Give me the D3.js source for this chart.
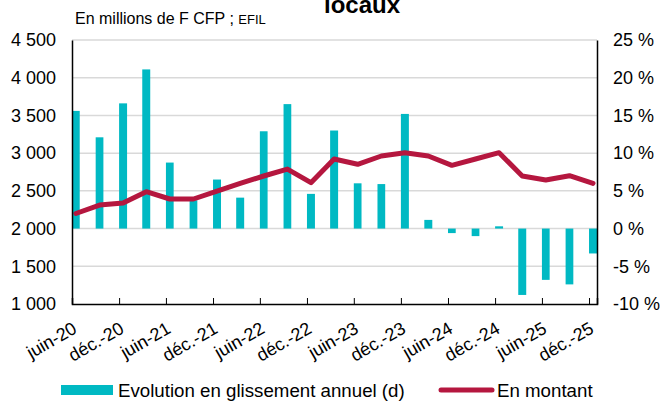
<!DOCTYPE html>
<html><head><meta charset="utf-8">
<script src="https://cdn.jsdelivr.net/npm/d3@7"></script>
<style>
html,body{margin:0;padding:0;background:#fff;}
svg text{font-family:"Liberation Sans",Arial,sans-serif;fill:#000;}
</style></head>
<body><svg id="c" width="665" height="401"></svg>
<script>
const dates = ["2020-06","2020-09","2020-12","2021-03","2021-06","2021-09","2021-12","2022-03","2022-06","2022-09","2022-12","2023-03","2023-06","2023-09","2023-12","2024-03","2024-06","2024-09","2024-12","2025-03","2025-06","2025-09","2025-12"];
const growth = [15.6,12.1,16.6,21.1,8.75,3.75,6.5,4.1,12.9,16.5,4.6,13.0,6.0,5.9,15.2,1.15,-0.6,-1.0,0.3,-8.8,-6.8,-7.4,-3.3];
const amount = [2200,2312,2339,2489,2392,2392,2498,2600,2697,2789,2608,2922,2852,2962,3006,2962,2838,2922,3006,2697,2644,2701,2600];
const tickDates = ["2020-06","2020-12","2021-06","2021-12","2022-06","2022-12","2023-06","2023-12","2024-06","2024-12","2025-06","2025-12"];
const tickLabels = ["juin-20","déc.-20","juin-21","déc.-21","juin-22","déc.-22","juin-23","déc.-23","juin-24","déc.-24","juin-25","déc.-25"];
const leftTicks = [1000,1500,2000,2500,3000,3500,4000,4500];
const rightTicks = [-10,-5,0,5,10,15,20,25];
const seriesNames = ["Evolution en glissement annuel (d)","En montant"];

const svg = d3.select("#c");
const L=72, R=597, T=40, B=304;
const parse = d3.timeParse("%Y-%m");
const x = d3.scaleTime().domain([parse("2020-06"), parse("2026-01")]).range([L,R]);
const yL = d3.scaleLinear().domain([1000,4500]).range([B,T]);
const yR = d3.scaleLinear().domain([-10,25]).range([B,T]);
const teal="#00B9C3", red="#B5173F";

// gridlines
svg.append("g").selectAll("line").data(leftTicks.slice(1)).join("line")
  .attr("x1",L).attr("x2",R).attr("y1",d=>yL(d)).attr("y2",d=>yL(d))
  .attr("stroke","#D9D9D9").attr("stroke-width",1.5);

// bars
const nextMonth = d=>d3.timeMonth.offset(d,1);
svg.append("g").selectAll("rect").data(dates).join("rect")
  .attr("x",d=>x(parse(d)))
  .attr("width",d=>x(nextMonth(parse(d)))-x(parse(d)))
  .attr("y",(d,i)=>Math.min(yR(growth[i]),yR(0)))
  .attr("height",(d,i)=>Math.abs(yR(growth[i])-yR(0)))
  .attr("fill",teal);

// line
const mid = d=>new Date((parse(d).getTime()+nextMonth(parse(d)).getTime())/2);
svg.append("path").datum(dates)
  .attr("d",d3.line().x(d=>x(mid(d))).y((d,i)=>yL(amount[i])))
  .attr("fill","none").attr("stroke",red).attr("stroke-width",5)
  .attr("stroke-linejoin","round").attr("stroke-linecap","round");

// axes
const gx = svg.append("g").attr("transform",`translate(0,${B})`)
  .call(d3.axisBottom(x).tickValues(tickDates.map(parse)).tickSize(-6).tickFormat(""));
gx.select(".domain").attr("stroke","#000").attr("stroke-width",1.5);
gx.selectAll(".tick line").attr("stroke","#000");
svg.append("g").selectAll("text").data(tickDates).join("text")
  .attr("transform",d=>`translate(${x(parse(d))+6},332) rotate(-30)`)
  .attr("text-anchor","end").attr("font-size",18)
  .text((d,i)=>tickLabels[i]);

const gl = svg.append("g").attr("transform",`translate(${L},0)`)
  .call(d3.axisLeft(yL).tickValues(leftTicks).tickSize(0).tickPadding(16)
  .tickFormat(d=>d3.format(",")(d).replace(","," ")));
gl.select(".domain").attr("stroke","#000").attr("stroke-width",1.5);
gl.selectAll("text").attr("font-size",18).attr("font-family","Liberation Sans, Arial, sans-serif");

const gr = svg.append("g").attr("transform",`translate(${R},0)`)
  .call(d3.axisRight(yR).tickValues(rightTicks).tickSize(0).tickPadding(16)
  .tickFormat(d=>d+" %"));
gr.select(".domain").attr("stroke","#000").attr("stroke-width",1.5);
gr.selectAll("text").attr("font-size",18).attr("font-family","Liberation Sans, Arial, sans-serif");

// title & subtitle
svg.append("text").attr("x",362).attr("y",13).attr("text-anchor","middle")
  .attr("font-size",24).attr("font-weight","bold").text("locaux");
const st = svg.append("text").attr("x",75).attr("y",24).attr("font-size",16);
st.append("tspan").text("En millions de F CFP ; ");
st.append("tspan").attr("font-size",13).text("EFIL");

// legend
svg.append("rect").attr("x",61).attr("y",385).attr("width",52).attr("height",10).attr("fill",teal);
svg.append("text").attr("x",118).attr("y",397).attr("font-size",18.7).text(seriesNames[0]);
svg.append("line").attr("x1",441).attr("x2",492).attr("y1",390).attr("y2",390)
  .attr("stroke",red).attr("stroke-width",5).attr("stroke-linecap","round");
svg.append("text").attr("x",497).attr("y",397).attr("font-size",18.7).text(seriesNames[1]);
</script></body></html>
